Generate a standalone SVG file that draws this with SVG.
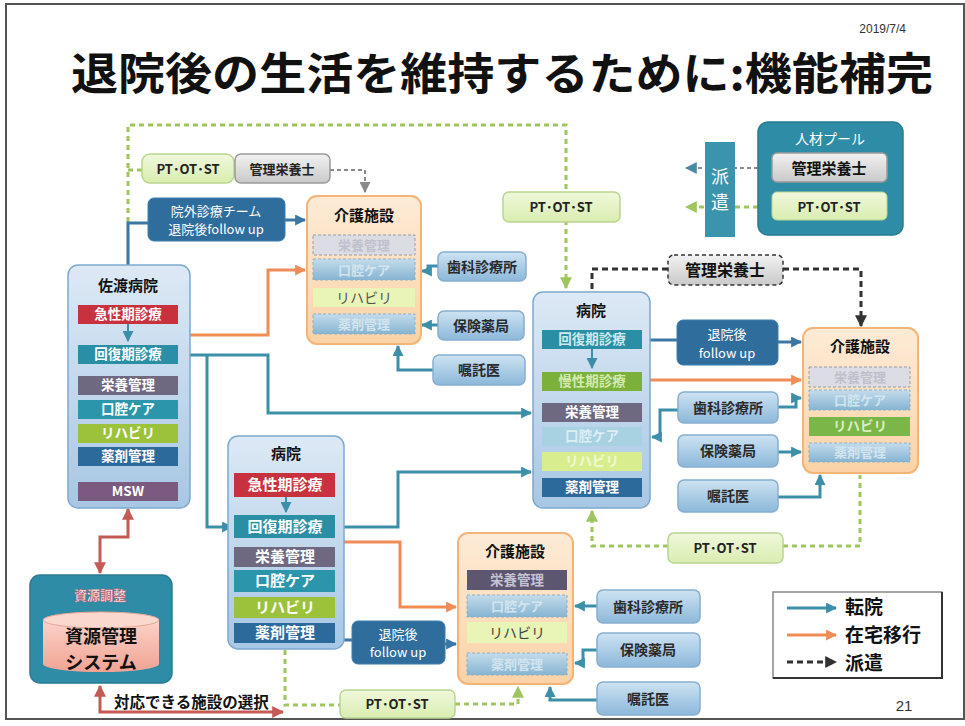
<svg xmlns="http://www.w3.org/2000/svg" width="965" height="726" viewBox="0 0 965 726">
<style>
text{font-family:"Noto Sans CJK JP","Noto Sans",sans-serif;text-anchor:middle}
.t{font-weight:bold;font-size:15px;fill:#111}
.r{font-weight:bold;font-size:13.5px;fill:#fff}
.r2{font-weight:bold;font-size:15px;fill:#fff}
.hosp{fill:url(#gH);stroke:#7ea9cf;stroke-width:1.5}
.care{fill:url(#gC);stroke:#f3b478;stroke-width:2}
.cl{fill:url(#gL);stroke:#86afcf;stroke-width:1.5}
.clt{font-weight:bold;font-size:14px;fill:#2a2a2a}
.pt{fill:url(#gP);stroke:#b9d58f;stroke-width:1.5}
.ptt{font-weight:bold;font-size:13px;fill:#222}
.gy{fill:url(#gG);stroke:#9a9a9a;stroke-width:1.5}
.fu{fill:#2f6d9c;stroke:#3f7fae;stroke-width:1}
.fut{font-size:13px;fill:#fff}
.c{fill:none;stroke-width:3}
.teal{stroke:#3b8fa8}
.blue{stroke:#3a76a6}
.org{stroke:#f08c55}
.grn{stroke:#9ec55e;stroke-dasharray:5 4}
.blk{stroke:#333;stroke-dasharray:6 4}
.gdash{stroke:#8a8a8a;stroke-dasharray:4 3;stroke-width:2}
.red{stroke:#c55a55}
.fadeG{fill:#dcdde4;stroke:#9a9aa6;stroke-width:1;stroke-dasharray:3 2}
.fadeB{fill:url(#gF);stroke:#8fb0c8;stroke-width:1;stroke-dasharray:3 2}
.ft{font-weight:bold;font-size:13px;fill:#d2e4ee}
.fg{font-weight:bold;font-size:13px;fill:#bfc0cc}
.lg{font-weight:bold;font-size:19px;fill:#111;text-anchor:start}
</style>
<defs>
<linearGradient id="gH" x1="0" y1="0" x2="0" y2="1"><stop offset="0" stop-color="#dde9f5"/><stop offset="1" stop-color="#a7c7e4"/></linearGradient>
<linearGradient id="gC" x1="0" y1="0" x2="0" y2="1"><stop offset="0" stop-color="#fdebd6"/><stop offset="1" stop-color="#fbd2a6"/></linearGradient>
<linearGradient id="gL" x1="0" y1="0" x2="0" y2="1"><stop offset="0" stop-color="#cde3f2"/><stop offset="1" stop-color="#8cb8da"/></linearGradient>
<linearGradient id="gP" x1="0" y1="0" x2="0" y2="1"><stop offset="0" stop-color="#f0f8dc"/><stop offset="1" stop-color="#d9edb0"/></linearGradient>
<linearGradient id="gG" x1="0" y1="0" x2="0" y2="1"><stop offset="0" stop-color="#f2f2f2"/><stop offset="1" stop-color="#c9c9c9"/></linearGradient>
<linearGradient id="gF" x1="0" y1="0" x2="0" y2="1"><stop offset="0" stop-color="#c4dceb"/><stop offset="1" stop-color="#86b4d2"/></linearGradient>
<linearGradient id="gK" x1="0" y1="0" x2="0" y2="1"><stop offset="0" stop-color="#fbd3c8"/><stop offset="1" stop-color="#f0a393"/></linearGradient>
<marker id="aT" viewBox="0 0 10 10" refX="9" refY="5" markerWidth="11" markerHeight="11" markerUnits="userSpaceOnUse" orient="auto-start-reverse"><path d="M0,0L10,5L0,10z" fill="#3b8fa8"/></marker>
<marker id="aB" viewBox="0 0 10 10" refX="9" refY="5" markerWidth="11" markerHeight="11" markerUnits="userSpaceOnUse" orient="auto-start-reverse"><path d="M0,0L10,5L0,10z" fill="#3a76a6"/></marker>
<marker id="aO" viewBox="0 0 10 10" refX="9" refY="5" markerWidth="11" markerHeight="11" markerUnits="userSpaceOnUse" orient="auto-start-reverse"><path d="M0,0L10,5L0,10z" fill="#f08c55"/></marker>
<marker id="aG" viewBox="0 0 10 10" refX="9" refY="5" markerWidth="12" markerHeight="12" markerUnits="userSpaceOnUse" orient="auto-start-reverse"><path d="M0,0L10,5L0,10z" fill="#9ec55e"/></marker>
<marker id="aK" viewBox="0 0 10 10" refX="9" refY="5" markerWidth="12" markerHeight="12" markerUnits="userSpaceOnUse" orient="auto-start-reverse"><path d="M0,0L10,5L0,10z" fill="#333"/></marker>
<marker id="aY" viewBox="0 0 10 10" refX="9" refY="5" markerWidth="11" markerHeight="11" markerUnits="userSpaceOnUse" orient="auto-start-reverse"><path d="M0,0L10,5L0,10z" fill="#8a8a8a"/></marker>
<marker id="aS" viewBox="0 0 10 10" refX="9" refY="5" markerWidth="12" markerHeight="12" markerUnits="userSpaceOnUse" orient="auto-start-reverse"><path d="M0,0L10,5L0,10z" fill="#4a88a8"/></marker>
<marker id="aR" viewBox="0 0 10 10" refX="9" refY="5" markerWidth="12" markerHeight="12" markerUnits="userSpaceOnUse" orient="auto-start-reverse"><path d="M0,0L10,5L0,10z" fill="#c55a55"/></marker>
</defs>

<rect x="0" y="0" width="965" height="726" fill="#fff"/>
<rect x="6" y="4" width="958" height="715" fill="#fff" stroke="#555" stroke-width="2"/>

<g id="header">
<text x="906" y="33" style="font-family:'Liberation Sans',sans-serif;font-size:12px;fill:#333;text-anchor:end">2019/7/4</text>
<text x="502" y="90" textLength="862" lengthAdjust="spacingAndGlyphs" style="font-size:44px;font-weight:bold;fill:#111">退院後の生活を維持するために:機能補完</text>
</g>

<g id="connectors">
<path class="c grn" d="M128,222 V125 H566 V288" marker-end="url(#aG)"/>
<path class="c grn" d="M142,170 H128"/>
<path class="c gdash" d="M330,170 H365 V192" marker-end="url(#aY)"/>
<path class="c blue" d="M128,265 V223 H148"/>
<path class="c blue" d="M285,220 H305" marker-end="url(#aB)"/>
<path class="c org" d="M188,335 H268 V270 H305" marker-end="url(#aO)"/>
<path class="c teal" d="M438,266 H428 V271 H422" marker-end="url(#aT)"/>
<path class="c teal" d="M438,325 H422" marker-end="url(#aT)"/>
<path class="c teal" d="M433,370 H398 V346" marker-end="url(#aT)"/>
<path class="c teal" d="M188,355 H268 V413 H531" marker-end="url(#aT)"/>
<path class="c teal" d="M207,355 V527 H232" marker-end="url(#aT)"/>
<path class="c teal" d="M344,527 H398 V472 H531" marker-end="url(#aT)"/>
<path class="c org" d="M344,542 H400 V607 H456" marker-end="url(#aO)"/>
<path class="c blue" d="M344,640 H352"/>
<path class="c blue" d="M445,644 H456" marker-end="url(#aB)"/>
<path class="c grn" d="M285,650 V705 H340"/>
<path class="c grn" d="M455,704 H518 V687" marker-end="url(#aG)"/>
<path class="c teal" d="M597,606 H575" marker-end="url(#aT)"/>
<path class="c teal" d="M597,650 H583 V663 H575" marker-end="url(#aT)"/>
<path class="c teal" d="M597,700 H550 V687" marker-end="url(#aT)"/>
<path class="c red" d="M128,509 V537 H100 V573" marker-start="url(#aR)" marker-end="url(#aR)"/>
<path class="c red" d="M100,686 V712 H283" marker-start="url(#aR)" marker-end="url(#aR)"/>
<path class="c blk" d="M668,269 H592 V292"/>
<path class="c blk" d="M783,269 H861 V326" marker-end="url(#aK)"/>
<path class="c gdash" d="M758,168 H686" marker-end="url(#aS)"/>
<path class="c grn" d="M758,207 H686" marker-end="url(#aG)"/>
<path class="c blue" d="M650,340 H677"/>
<path class="c blue" d="M778,342 H801" marker-end="url(#aB)"/>
<path class="c org" d="M650,380 H801" marker-end="url(#aO)"/>
<path class="c teal" d="M778,407 H796 V398 H801" marker-end="url(#aT)"/>
<path class="c teal" d="M678,410 H660 V437 H652" marker-end="url(#aT)"/>
<path class="c teal" d="M778,452 H801" marker-end="url(#aT)"/>
<path class="c teal" d="M778,497 H820 V475" marker-end="url(#aT)"/>
<path class="c grn" d="M668,546 H592 V511" marker-end="url(#aG)"/>
<path class="c grn" d="M783,546 H860 V475"/>
</g>

<g id="sado-hospital">
<rect class="hosp" x="68" y="265" width="122" height="243" rx="10"/>
<text class="t" x="128" y="291">佐渡病院</text>
<path d="M128,324 V341" stroke="#3b8fa8" stroke-width="2" marker-end="url(#aT)"/>
<rect x="78" y="305" width="100" height="19" fill="#c8323e"/><text class="r" x="128" y="319">急性期診療</text>
<rect x="78" y="345" width="100" height="19" fill="#2a8fa5"/><text class="r" x="128" y="359">回復期診療</text>
<rect x="78" y="376" width="100" height="19" fill="#6e6880"/><text class="r" x="128" y="390">栄養管理</text>
<rect x="78" y="400" width="100" height="19" fill="#2b95ab"/><text class="r" x="128" y="414">口腔ケア</text>
<rect x="78" y="424" width="100" height="19" fill="#9cc23c"/><text class="r" x="128" y="438">リハビリ</text>
<rect x="78" y="447" width="100" height="19" fill="#2d6a9c"/><text class="r" x="128" y="461">薬剤管理</text>
<rect x="78" y="482" width="100" height="19" fill="#7a5a7e"/><text class="r" x="128" y="496">MSW</text>
</g>

<g id="pt-nutri-top">
<rect class="pt" x="142" y="154" width="92" height="29" rx="8"/><text class="ptt" x="188" y="174">PT･OT･ST</text>
<rect class="gy" x="235" y="154" width="95" height="29" rx="6"/><text class="ptt" x="282" y="174">管理栄養士</text>
</g>

<g id="outreach-team">
<rect class="fu" x="148" y="198" width="137" height="43" rx="6"/>
<text class="fut" x="216" y="216">院外診療チーム</text>
<text class="fut" x="216" y="234">退院後follow up</text>
</g>

<g id="care-top">
<rect class="care" x="307" y="196" width="114" height="148" rx="10"/>
<text class="t" x="364" y="221">介護施設</text>
<rect class="fadeG" x="313" y="235" width="102" height="20"/><text class="fg" x="364" y="250">栄養管理</text>
<rect class="fadeB" x="313" y="259" width="102" height="21"/><text class="ft" x="364" y="275">口腔ケア</text>
<rect x="313" y="288" width="102" height="19" fill="#e8f5b6"/><text x="364" y="303" style="font-size:14px;fill:#555">リハビリ</text>
<rect class="fadeB" x="313" y="314" width="102" height="20"/><text class="ft" x="364" y="329">薬剤管理</text>
</g>

<g id="dental-top"><rect class="cl" x="438" y="252" width="88" height="29" rx="6"/><text class="clt" x="482" y="272">歯科診療所</text></g>
<g id="pharmacy-top"><rect class="cl" x="438" y="311" width="86" height="29" rx="6"/><text class="clt" x="481" y="331">保険薬局</text></g>
<g id="doctor-top"><rect class="cl" x="433" y="355" width="92" height="30" rx="6"/><text class="clt" x="479" y="375">嘱託医</text></g>

<g id="pt-mid-top"><rect class="pt" x="503" y="192" width="117" height="30" rx="6"/><text class="ptt" x="561" y="212">PT･OT･ST</text></g>

<g id="hospital-mid">
<rect class="hosp" x="533" y="292" width="117" height="216" rx="10"/>
<text class="t" x="591" y="316">病院</text>
<path d="M592,349 V368" stroke="#3b8fa8" stroke-width="2" marker-end="url(#aT)"/>
<rect x="542" y="330" width="100" height="19" fill="#2a8fa5"/><text class="r" x="592" y="344" style="fill:#cfe8ee">回復期診療</text>
<rect x="542" y="372" width="100" height="19" fill="#7bb03a"/><text class="r" x="592" y="386" style="fill:#d4eab0">慢性期診療</text>
<rect x="542" y="403" width="100" height="19" fill="#6e6880"/><text class="r" x="592" y="417">栄養管理</text>
<rect x="542" y="427" width="100" height="19" fill="#a8d2e2"/><text class="r" x="592" y="441" style="fill:#dcedf3">口腔ケア</text>
<rect x="542" y="452" width="100" height="19" fill="#d8ee8e"/><text class="r" x="592" y="466" style="fill:#f0f9d2">リハビリ</text>
<rect x="542" y="478" width="100" height="19" fill="#2d6a9c"/><text class="r" x="592" y="492">薬剤管理</text>
</g>

<g id="nutri-mid"><rect x="668" y="255" width="115" height="30" rx="6" fill="url(#gG)" stroke="#333" stroke-width="1.5" stroke-dasharray="4 3"/><text x="725" y="276" style="font-weight:bold;font-size:16px;fill:#111">管理栄養士</text></g>

<g id="staff-pool">
<rect x="758" y="122" width="145" height="113" rx="10" fill="#2e8ca6" stroke="#2a7b92" stroke-width="1.5"/>
<text x="830" y="144" style="font-size:14px;fill:#fff">人材プール</text>
<rect class="gy" x="772" y="153" width="115" height="29" rx="5"/><text x="829" y="174" style="font-weight:bold;font-size:15px;fill:#111">管理栄養士</text>
<rect x="772" y="192" width="115" height="28" rx="5" fill="url(#gP)" stroke="#b9d58f"/><text class="ptt" x="829" y="212">PT･OT･ST</text>
</g>

<g id="dispatch-label">
<rect x="705" y="142" width="30" height="95" fill="#3a94ad"/>
<text x="720" y="183" style="font-size:18px;fill:#fff">派</text>
<text x="720" y="209" style="font-size:18px;fill:#fff">遣</text>
</g>

<g id="followup-right">
<rect class="fu" x="677" y="320" width="101" height="45" rx="6"/>
<text class="fut" x="727" y="339">退院後</text>
<text class="fut" x="727" y="358">follow up</text>
</g>

<g id="care-right">
<rect class="care" x="803" y="328" width="115" height="145" rx="10"/>
<text class="t" x="860" y="352">介護施設</text>
<rect class="fadeG" x="809" y="367" width="101" height="20"/><text class="fg" x="860" y="382">栄養管理</text>
<rect class="fadeB" x="809" y="390" width="101" height="20"/><text class="ft" x="860" y="405">口腔ケア</text>
<rect x="809" y="417" width="101" height="19" fill="#7ab648"/><text class="r" x="860" y="431" style="fill:#d9efc2">リハビリ</text>
<rect class="fadeB" x="809" y="443" width="101" height="19"/><text class="ft" x="860" y="457">薬剤管理</text>
</g>

<g id="dental-right"><rect class="cl" x="678" y="392" width="100" height="31" rx="6"/><text class="clt" x="728" y="413">歯科診療所</text></g>
<g id="pharmacy-right"><rect class="cl" x="678" y="435" width="100" height="32" rx="6"/><text class="clt" x="728" y="456">保険薬局</text></g>
<g id="doctor-right"><rect class="cl" x="678" y="480" width="100" height="32" rx="6"/><text class="clt" x="728" y="501">嘱託医</text></g>

<g id="pt-mid-bottom"><rect class="pt" x="668" y="533" width="115" height="30" rx="6"/><text class="ptt" x="725" y="553">PT･OT･ST</text></g>

<g id="hospital-low">
<rect class="hosp" x="228" y="436" width="116" height="213" rx="10"/>
<text class="t" x="286" y="459">病院</text>
<path d="M286,497 V512" stroke="#3b8fa8" stroke-width="2" marker-end="url(#aT)"/>
<rect x="234" y="473" width="101" height="24" fill="#c8323e"/><text class="r2" x="285" y="490">急性期診療</text>
<rect x="234" y="515" width="101" height="23" fill="#2a8fa5"/><text class="r2" x="285" y="532">回復期診療</text>
<rect x="234" y="547" width="101" height="20" fill="#6e6880"/><text class="r2" x="285" y="562">栄養管理</text>
<rect x="234" y="570" width="101" height="22" fill="#2b95ab"/><text class="r2" x="285" y="586">口腔ケア</text>
<rect x="234" y="597" width="101" height="21" fill="#9cc23c"/><text class="r2" x="285" y="613">リハビリ</text>
<rect x="234" y="623" width="101" height="20" fill="#2d6a9c"/><text class="r2" x="285" y="638">薬剤管理</text>
</g>

<g id="followup-low">
<rect class="fu" x="352" y="621" width="93" height="43" rx="6"/>
<text class="fut" x="398" y="639">退院後</text>
<text class="fut" x="398" y="657">follow up</text>
</g>

<g id="care-low">
<rect class="care" x="458" y="533" width="115" height="151" rx="10"/>
<text class="t" x="515" y="557">介護施設</text>
<rect x="467" y="570" width="100" height="20" fill="#5c5670"/><text class="r" x="517" y="585" style="fill:#c7c3d4">栄養管理</text>
<rect class="fadeB" x="467" y="595" width="100" height="22"/><text class="ft" x="517" y="611">口腔ケア</text>
<rect x="467" y="622" width="100" height="21" fill="#e8f5b6"/><text x="517" y="638" style="font-size:14px;fill:#444">リハビリ</text>
<rect class="fadeB" x="467" y="653" width="100" height="22"/><text class="ft" x="517" y="669">薬剤管理</text>
</g>

<g id="dental-low"><rect class="cl" x="597" y="590" width="103" height="33" rx="6"/><text class="clt" x="648" y="612">歯科診療所</text></g>
<g id="pharmacy-low"><rect class="cl" x="597" y="633" width="103" height="34" rx="6"/><text class="clt" x="648" y="655">保険薬局</text></g>
<g id="doctor-low"><rect class="cl" x="597" y="682" width="103" height="33" rx="6"/><text class="clt" x="648" y="704">嘱託医</text></g>

<g id="pt-low"><rect class="pt" x="340" y="690" width="115" height="28" rx="6"/><text class="ptt" x="397" y="709">PT･OT･ST</text></g>

<g id="resource">
<rect x="30" y="575" width="142" height="108" rx="10" fill="#2e8ca6" stroke="#2a7b92" stroke-width="1.5"/>
<text x="100" y="600" style="font-weight:bold;font-size:13px;fill:#f3e6ee;stroke:#d05a6a;stroke-width:0.4">資源調整</text>
<path d="M43,620 V664 A58,8 0 0 0 159,664 V620 Z" fill="url(#gK)"/>
<ellipse cx="101" cy="620" rx="58" ry="8" fill="#fbd8ce" stroke="#e9a595" stroke-width="1"/>
<text x="101" y="643" style="font-weight:bold;font-size:18px;fill:#111">資源管理</text>
<text x="101" y="669" style="font-weight:bold;font-size:18px;fill:#111">システム</text>
</g>

<g id="selection-label">
<text x="114" y="708" style="font-weight:bold;font-size:15.5px;fill:#111;text-anchor:start">対応できる施設の選択</text>
</g>

<g id="legend">
<rect x="773" y="592" width="169" height="86" fill="#fff" stroke="#888" stroke-width="1.5"/>
<path d="M942,592 V678 H773" fill="none" stroke="#333" stroke-width="2"/>
<path class="c teal" d="M787,608 H836" marker-end="url(#aT)"/>
<path class="c org" d="M787,635 H836" marker-end="url(#aO)"/>
<path class="c blk" d="M787,662 H836" marker-end="url(#aK)"/>
<text class="lg" x="845" y="614">転院</text>
<text class="lg" x="845" y="642">在宅移行</text>
<text class="lg" x="845" y="670">派遣</text>
</g>

<g id="page-number">
<text x="904" y="711" style="font-family:'Liberation Sans',sans-serif;font-size:15px;fill:#333">21</text>
</g>
</svg>
